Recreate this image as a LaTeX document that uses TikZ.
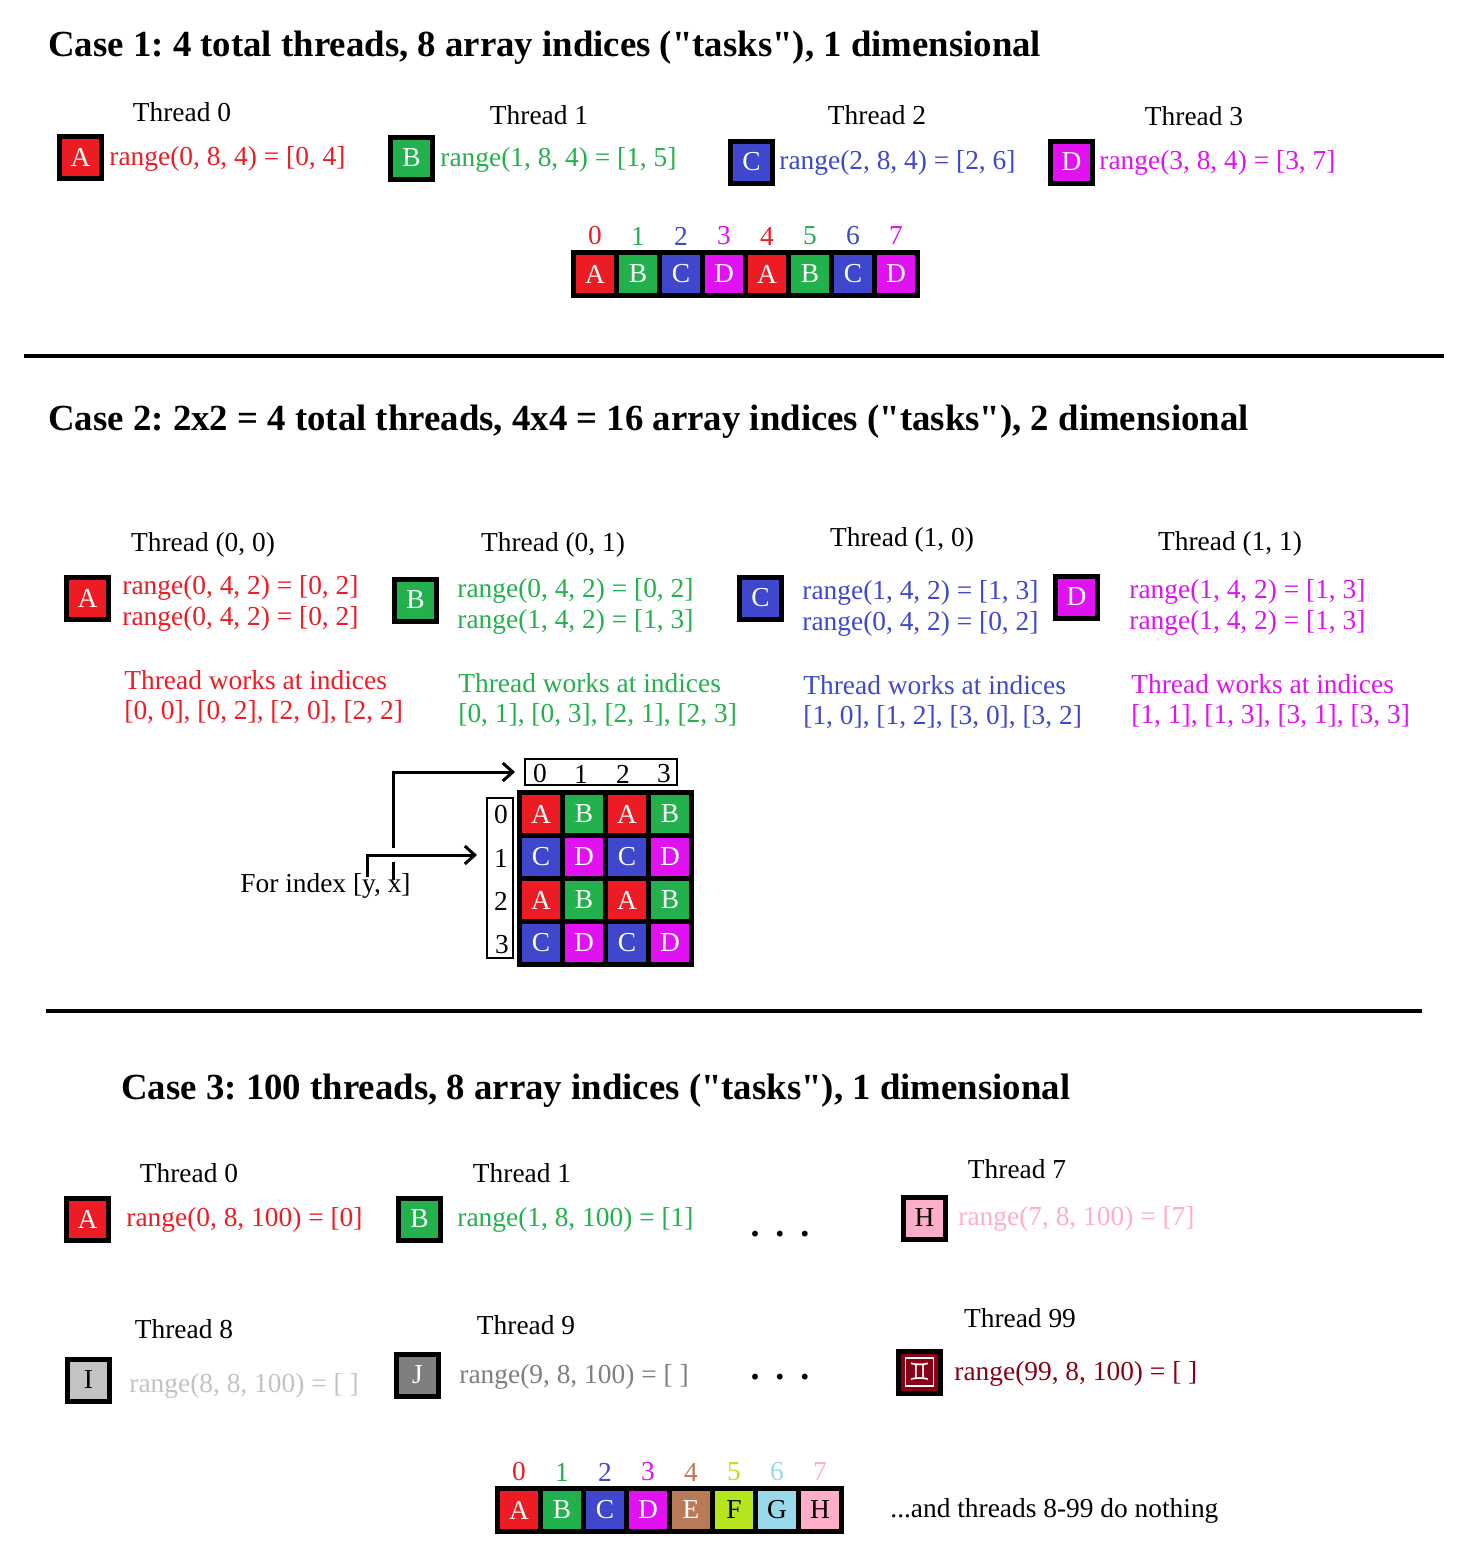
\documentclass[tikz,border=0pt]{standalone}
\usepackage{fontspec}
\setmainfont{Liberation Serif}
\newfontfamily\qfont{Liberation Serif}
\newfontfamily\symfont{DejaVu Sans}
\newcommand{\sq}{{\qfont\char"22}}
\usetikzlibrary{arrows.meta,calc}
\definecolor{cA}{HTML}{ED1C24}
\definecolor{cB}{HTML}{22B14C}
\definecolor{cC}{HTML}{3F48CC}
\definecolor{cD}{HTML}{E012F2}
\definecolor{cE}{HTML}{B97A57}
\definecolor{cF}{HTML}{B5E61D}
\definecolor{cG}{HTML}{99D9EA}
\definecolor{cH}{HTML}{FFAEC9}
\definecolor{cI}{HTML}{C3C3C3}
\definecolor{cJ}{HTML}{7F7F7F}
\definecolor{cQ}{HTML}{880015}
\tikzset{
  txt/.style={font=\fontsize{13.7}{16}\selectfont, inner sep=0pt, yshift=-1pt},
  rtxt/.style={txt, anchor=west},
  title/.style={font=\frenchspacing\bfseries\fontsize{18.4}{22}\selectfont, anchor=west, inner sep=0pt, yshift=-1.5pt},
  tbox/.style={draw=black, line width=2.5pt, minimum size=21pt, inner sep=0pt, text=white, font=\fontsize{13.7}{16}\selectfont},
  cell/.style={minimum size=19pt, inner sep=0pt, text=white, font=\fontsize{13.7}{16}\selectfont},
  dotsty/.style={font=\bfseries\fontsize{18}{22}\selectfont, inner sep=0pt},
  sep/.style={line width=2pt},
  arr/.style={line width=1.5pt, -{Straight Barb[length=5pt,width=9pt,line width=1.5pt]}},
  idxbox/.style={draw=black, line width=0.6pt},
}
\begin{document}
\begin{tikzpicture}[x=0.5pt,y=-0.5pt]
\useasboundingbox[fill=white] (0,0) rectangle (1476,1564);

% ---------------- Case 1 ----------------
\node[title] (title1) at (48,45) {Case 1: 4 total threads, 8 array indices (\sq tasks\sq), 1 dimensional};

\node[txt] (th10) at (182,110) {Thread 0};
\node[txt] (th11) at (539,113) {Thread 1};
\node[txt] (th12) at (877,113) {Thread 2};
\node[txt] (th13) at (1194,114) {Thread 3};

\node[tbox, fill=cA] (b1a) at (80.5,157) {A};
\node[rtxt, text=cA] (r1a) at (109,157) {range(0, 8, 4) = [0, 4]};
\node[tbox, fill=cB] (b1b) at (411.5,158) {B};
\node[rtxt, text=cB] (r1b) at (440,158) {range(1, 8, 4) = [1, 5]};
\node[tbox, fill=cC] (b1c) at (751.5,162) {C};
\node[rtxt, text=cC] (r1c) at (779,161) {range(2, 8, 4) = [2, 6]};
\node[tbox, fill=cD] (b1d) at (1071.5,162) {D};
\node[rtxt, text=cD] (r1d) at (1099,161) {range(3, 8, 4) = [3, 7]};

\fill[black] (571,250) rectangle (920,298);
\foreach \i/\l/\c in {0/A/cA,1/B/cB,2/C/cC,3/D/cD,4/A/cA,5/B/cB,6/C/cC,7/D/cD}{
  \node[cell, fill=\c] (a1c\i) at ({595+43*\i},274) {\l};
  \node[txt, text=\c] (a1i\i) at ({595+43*\i},234) {\i};
}

\draw[sep] (24,356) -- (1444,356);

% ---------------- Case 2 ----------------
\node[title] (title2) at (48,419) {Case 2: 2x2 = 4 total threads, 4x4 = 16 array indices (\sq tasks\sq), 2 dimensional};

\node[txt] (th200) at (203,543) {Thread (0, 0)};
\node[txt] (th201) at (553,543) {Thread (0, 1)};
\node[txt] (th210) at (902,538) {Thread (1, 0)};
\node[txt] (th211) at (1230,542) {Thread (1, 1)};

\node[tbox, fill=cA] (b2a) at (87.5,598) {A};
\node[rtxt, text=cA] (r2a1) at (122,586) {range(0, 4, 2) = [0, 2]};
\node[rtxt, text=cA] (r2a2) at (122,617) {range(0, 4, 2) = [0, 2]};
\node[tbox, fill=cB] (b2b) at (415.5,600) {B};
\node[rtxt, text=cB] (r2b1) at (457,589) {range(0, 4, 2) = [0, 2]};
\node[rtxt, text=cB] (r2b2) at (457,620) {range(1, 4, 2) = [1, 3]};
\node[tbox, fill=cC] (b2c) at (760.5,598) {C};
\node[rtxt, text=cC] (r2c1) at (802,591) {range(1, 4, 2) = [1, 3]};
\node[rtxt, text=cC] (r2c2) at (802,622) {range(0, 4, 2) = [0, 2]};
\node[tbox, fill=cD] (b2d) at (1076.5,597) {D};
\node[rtxt, text=cD] (r2d1) at (1129,590) {range(1, 4, 2) = [1, 3]};
\node[rtxt, text=cD] (r2d2) at (1129,621) {range(1, 4, 2) = [1, 3]};

\node[rtxt, text=cA] (w2a1) at (124,678) {Thread works at indices};
\node[rtxt, text=cA] (w2a2) at (124,710) {[0, 0], [0, 2], [2, 0], [2, 2]};
\node[rtxt, text=cB] (w2b1) at (458,681) {Thread works at indices};
\node[rtxt, text=cB] (w2b2) at (458,713) {[0, 1], [0, 3], [2, 1], [2, 3]};
\node[rtxt, text=cC] (w2c1) at (803,683) {Thread works at indices};
\node[rtxt, text=cC] (w2c2) at (803,715) {[1, 0], [1, 2], [3, 0], [3, 2]};
\node[rtxt, text=cD] (w2d1) at (1131,682) {Thread works at indices};
\node[rtxt, text=cD] (w2d2) at (1131,714) {[1, 1], [1, 3], [3, 1], [3, 3]};

% grid
\fill[black] (517,790) rectangle (694,967);
\foreach \j/\la/\ca/\lb/\cb in {0/A/cA/B/cB,1/C/cC/D/cD,2/A/cA/B/cB,3/C/cC/D/cD}{
  \node[cell, fill=\ca] (g\j0) at (541,{814+43*\j}) {\la};
  \node[cell, fill=\cb] (g\j1) at (584,{814+43*\j}) {\lb};
  \node[cell, fill=\ca] (g\j2) at (627,{814+43*\j}) {\la};
  \node[cell, fill=\cb] (g\j3) at (670,{814+43*\j}) {\lb};
}
\draw[idxbox] (525,759) rectangle (677,785);
\draw[idxbox] (487,798) rectangle (513,958);
\node[txt] (cx0) at (540,772) {0};
\node[txt] (cx1) at (581,772) {1};
\node[txt] (cx2) at (623,772) {2};
\node[txt] (cx3) at (664,772) {3};
\node[txt] (ry0) at (501,813) {0};
\node[txt] (ry1) at (501,856) {1};
\node[txt] (ry2) at (501,899) {2};
\node[txt] (ry3) at (502,943) {3};

\node[rtxt] (foridx) at (240,884) {For index [y, x]};
\coordinate (ystart) at (367,877);
\coordinate (yend) at (477,855);
\coordinate (xstart) at (393,848);
\coordinate (xend) at (515,772);
\coordinate (xlow) at (393,880);
\coordinate (xgap) at (393,862);
\draw[arr] (xstart) |- (xend);
\draw[line width=1.5pt] (xlow) -- (xgap);
\draw[arr] (ystart) |- (yend);

\draw[sep] (46,1011) -- (1422,1011);

% ---------------- Case 3 ----------------
\node[title] (title3) at (121,1088) {Case 3: 100 threads, 8 array indices (\sq tasks\sq), 1 dimensional};

\node[txt] (th30) at (189,1171) {Thread 0};
\node[txt] (th31) at (522,1171) {Thread 1};
\node[txt] (th37) at (1017,1167) {Thread 7};
\node[txt] (th38) at (184,1327) {Thread 8};
\node[txt] (th39) at (526,1323) {Thread 9};
\node[txt] (th399) at (1020,1316) {Thread 99};

\node[tbox, fill=cA] (b3a) at (87.5,1219) {A};
\node[rtxt, text=cA] (r3a) at (126,1218) {range(0, 8, 100) = [0]};
\node[tbox, fill=cB] (b3b) at (419.5,1219) {B};
\node[rtxt, text=cB] (r3b) at (457,1218) {range(1, 8, 100) = [1]};
\node[dotsty] (dots1) at (780,1234) {.\hspace{8pt}.\hspace{8pt}.};
\node[tbox, fill=cH, text=black] (b3h) at (924.5,1218) {H};
\node[rtxt, text=cH] (r3h) at (958,1217) {range(7, 8, 100) = [7]};

\node[tbox, fill=cI, text=black] (b3i) at (88.5,1380) {I};
\node[rtxt, text=cI] (r3i) at (129,1384) {range(8, 8, 100) = [ ]};
\node[tbox, fill=cJ] (b3j) at (417.5,1375) {J};
\node[rtxt, text=cJ] (r3j) at (459,1375) {range(9, 8, 100) = [ ]};
\node[dotsty] (dots2) at (780,1377) {.\hspace{8pt}.\hspace{8pt}.};
\node[tbox, fill=cQ] (b3q) at (919.5,1372) {\symfont\fontsize{12}{14}\selectfont ♊};
\draw[white, line width=0.6pt] ($(b3q.center)+(-14,-14)$) rectangle ($(b3q.center)+(14,14)$);
\node[rtxt, text=cQ] (r3q) at (954,1372) {range(99, 8, 100) = [ ]};

\fill[black] (495,1486) rectangle (844,1534);
\foreach \i/\l/\c/\t in {0/A/cA/white,1/B/cB/white,2/C/cC/white,3/D/cD/white,4/E/cE/white,5/F/cF/black,6/G/cG/black,7/H/cH/black}{
  \node[cell, fill=\c, text=\t] (a3c\i) at ({519+43*\i},1510) {\l};
  \node[txt, text=\c] (a3i\i) at ({519+43*\i},1470) {\i};
}
\node[rtxt] (nothing) at (890,1509) {...and threads 8-99 do nothing};
\end{tikzpicture}
\end{document}
